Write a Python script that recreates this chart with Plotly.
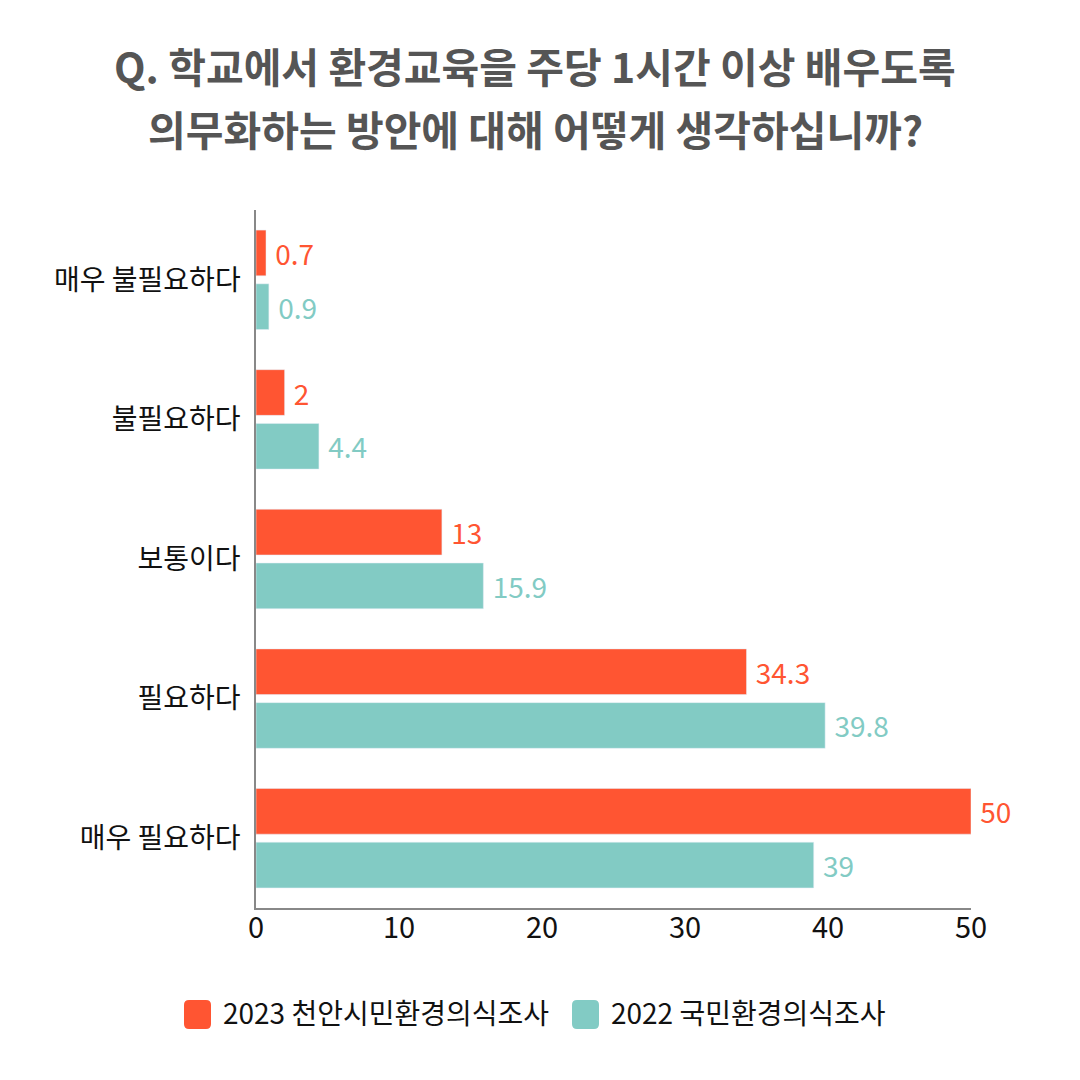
import plotly.graph_objects as go

categories = ["매우 불필요하다", "불필요하다", "보통이다", "필요하다", "매우 필요하다"]
series_2023 = [0.7, 2, 13, 34.3, 50]
series_2022 = [0.9, 4.4, 15.9, 39.8, 39]
name_2023 = "2023 천안시민환경의식조사"
name_2022 = "2022 국민환경의식조사"
x_ticks = [0, 10, 20, 30, 40, 50]

title_lines = [
    "Q. 학교에서 환경교육을 주당 1시간 이상 배우도록",
    "의무화하는 방안에 대해 어떻게 생각하십니까?",
]

ORANGE = "#FF5532"
TEAL = "#82CBC4"
FONT = "Noto Sans CJK KR"

# plot area in page pixels: x 256..971, y 210..908
def px(x):
    return (x - 256) / 715


def py(y):
    return (908 - y) / 698


fig = go.Figure()
fig.add_trace(go.Bar(
    y=categories, x=series_2023, name=name_2023, orientation="h",
    marker_color=ORANGE, text=series_2023, texttemplate=" %{x}",
    textposition="outside", textfont=dict(color=ORANGE, size=28, family=FONT),
    cliponaxis=False, constraintext="none",
))
fig.add_trace(go.Bar(
    y=categories, x=series_2022, name=name_2022, orientation="h",
    marker_color=TEAL, text=series_2022, texttemplate=" %{x}",
    textposition="outside", textfont=dict(color=TEAL, size=28, family=FONT),
    cliponaxis=False, constraintext="none",
))


def rounded_box(x0, y0, x1, y1, r):
    return (
        f"M {px(x0 + r)},{py(y0)} L {px(x1 - r)},{py(y0)} "
        f"Q {px(x1)},{py(y0)} {px(x1)},{py(y0 + r)} "
        f"L {px(x1)},{py(y1 - r)} Q {px(x1)},{py(y1)} {px(x1 - r)},{py(y1)} "
        f"L {px(x0 + r)},{py(y1)} Q {px(x0)},{py(y1)} {px(x0)},{py(y1 - r)} "
        f"L {px(x0)},{py(y0 + r)} Q {px(x0)},{py(y0)} {px(x0 + r)},{py(y0)} Z"
    )


shapes = [
    dict(type="path", xref="paper", yref="paper", path=rounded_box(184, 1000, 211, 1029, 5),
         fillcolor=ORANGE, line_width=0),
    dict(type="path", xref="paper", yref="paper", path=rounded_box(572, 1000, 599, 1029, 5),
         fillcolor=TEAL, line_width=0),
]

annotations = [
    dict(text=name_2023, xref="paper", yref="paper", x=px(221), y=py(1012),
         xanchor="left", yanchor="middle", showarrow=False,
         font=dict(size=28, color="#111111", family=FONT)),
    dict(text=name_2022, xref="paper", yref="paper", x=px(609), y=py(1012),
         xanchor="left", yanchor="middle", showarrow=False,
         font=dict(size=28, color="#111111", family=FONT)),
]
for line, yc in zip(title_lines, [65, 128]):
    annotations.append(dict(
        text=line, xref="paper", yref="paper", x=px(535), y=py(yc),
        xanchor="center", yanchor="middle", showarrow=False,
        font=dict(size=41, color="#555555", family=FONT, weight="bold"),
    ))

# page has an 8px body margin, so the margins are shifted by 8px
fig.update_layout(
    width=1080, height=1080,
    margin=dict(l=248, r=117, t=202, b=180),
    paper_bgcolor="white", plot_bgcolor="white",
    barmode="group", bargap=0.23, bargroupgap=0.15,
    showlegend=False,
    font=dict(family=FONT, color="#111111"),
    shapes=shapes, annotations=annotations,
)
fig.update_xaxes(
    range=[0, 50], tickvals=x_ticks, showgrid=False, zeroline=False,
    showline=True, linecolor="#888888", linewidth=1.5,
    tickfont=dict(size=29, color="#111111"), ticklabelstandoff=-7,
)
fig.update_yaxes(
    autorange="reversed", showgrid=False, zeroline=False,
    showline=True, linecolor="#888888", linewidth=1.5,
    tickfont=dict(size=28, color="#111111"), ticklabelstandoff=8,
)

fig.write_html("out.html")
